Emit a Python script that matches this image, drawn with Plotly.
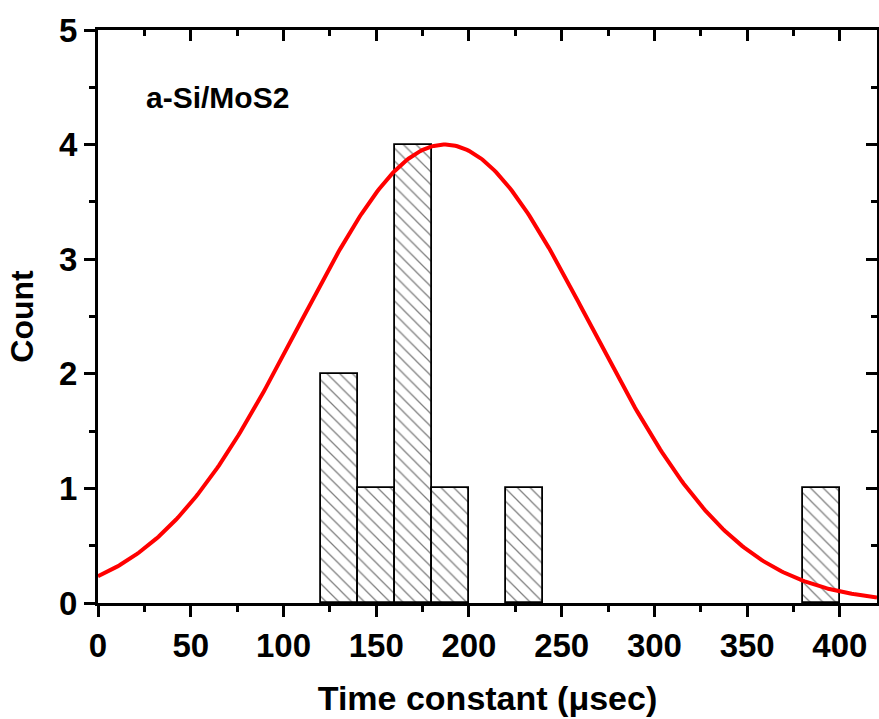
import numpy as np
import plotly.graph_objects as go

# Histogram data
bin_centers = [130, 150, 170, 190, 230, 390]
counts = [2, 1, 4, 1, 1, 1]
bin_width = 20

# Gaussian fit parameters
fit_xc = 187.0
fit_sigma = 78.5
fit_amp = 4.0
fit_y0 = 0.0

x_ticks = [0, 50, 100, 150, 200, 250, 300, 350, 400]
y_ticks = [0, 1, 2, 3, 4, 5]

xs = np.linspace(0, 420, 400)
ys = fit_y0 + fit_amp * np.exp(-(xs - fit_xc) ** 2 / (2 * fit_sigma ** 2))

FONT = "Liberation Sans, Arial, sans-serif"

fig = go.Figure()
fig.add_trace(go.Bar(
    x=bin_centers, y=counts, width=bin_width,
    marker=dict(color="white", line=dict(color="black", width=1.8),
                pattern=dict(shape="\\", fgcolor="black", bgcolor="white",
                             size=9, solidity=0.14)),
    showlegend=False, hoverinfo="skip"))
fig.add_trace(go.Scatter(x=xs, y=ys, mode="lines",
                         line=dict(color="#ff0000", width=4),
                         showlegend=False))
# invisible trace for the mirrored (top/right) axes
fig.add_trace(go.Scatter(x=[0], y=[0], xaxis="x2", yaxis="y2", mode="markers",
                         marker=dict(opacity=0), showlegend=False, hoverinfo="skip"))

axis_common = dict(showline=True, linecolor="black", linewidth=3, showgrid=False,
                   zeroline=False, ticklen=11, tickwidth=3, tickcolor="black")

fig.update_layout(
    width=879, height=719,
    margin=dict(l=98, r=2, t=30, b=116),
    plot_bgcolor="white", paper_bgcolor="white",
    font=dict(family=FONT, color="black"),
    bargap=0,
    xaxis=dict(range=[0, 420], tickvals=x_ticks, ticks="outside",
               tickfont=dict(size=33, family=FONT, weight="bold"),
               minor=dict(dtick=25, tick0=0, ticklen=6, tickwidth=3, ticks="outside", tickcolor="black"),
               title=dict(text="Time constant (μsec)", font=dict(size=34, family=FONT, weight="bold"),
                          standoff=24),
               **axis_common),
    yaxis=dict(range=[0, 5], tickvals=y_ticks, ticks="outside",
               tickfont=dict(size=33, family=FONT, weight="bold"),
               minor=dict(dtick=0.5, tick0=0, ticklen=6, tickwidth=3, ticks="outside", tickcolor="black"),
               title=dict(text="Count", font=dict(size=32, family=FONT, weight="bold"),
                          standoff=16),
               **axis_common),
    xaxis2=dict(range=[0, 420], overlaying="x", side="top", anchor="y2",
                tickvals=x_ticks, ticks="inside", showticklabels=False,
                minor=dict(dtick=25, tick0=0, ticklen=6, tickwidth=3, ticks="inside", tickcolor="black"),
                **axis_common),
    yaxis2=dict(range=[0, 5], overlaying="y", side="right", anchor="x2",
                tickvals=y_ticks, ticks="inside", showticklabels=False,
                minor=dict(dtick=0.5, tick0=0, ticklen=6, tickwidth=3, ticks="inside", tickcolor="black"),
                **axis_common),
    annotations=[dict(text="<b>a-Si/MoS2</b>", x=25, y=4.41, xref="x", yref="y",
                      xanchor="left", yanchor="middle", showarrow=False,
                      font=dict(size=30, family=FONT, color="black"))],
)

fig.write_html("out.html")
